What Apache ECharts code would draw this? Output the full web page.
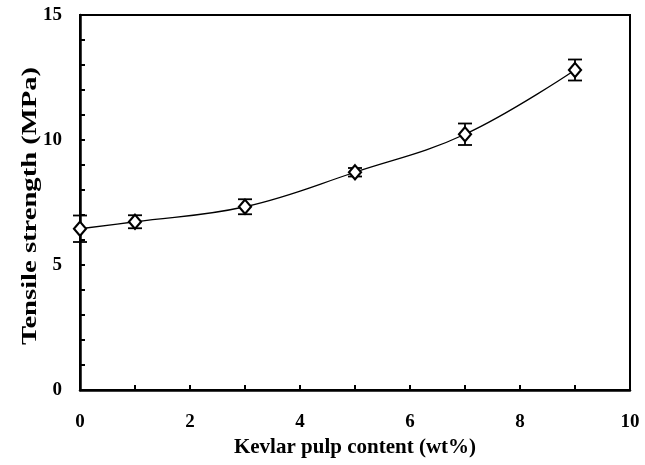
<!DOCTYPE html>
<html>
<head>
<meta charset="utf-8">
<script src="https://cdn.jsdelivr.net/npm/echarts@6/dist/echarts.min.js"></script>
<style>
  html, body { margin: 0; padding: 0; background: #fff; }
  #chart { width: 645px; height: 465px; }
</style>
</head>
<body>
<div id="chart"></div>
<script>
const pulpContent = [0, 1, 3, 5, 7, 9]
const tensileStrength = [6.45, 6.73, 7.33, 8.71, 10.23, 12.8]
const errorBars = [0.53, 0.26, 0.3, 0.17, 0.43, 0.42]

const FONT = '"Liberation Serif", "DejaVu Serif", serif'

const points = pulpContent.map((x, i) => [x, tensileStrength[i]])
const errData = pulpContent.map((x, i) => [x, tensileStrength[i] - errorBars[i], tensileStrength[i] + errorBars[i]])

const chart = echarts.init(document.getElementById('chart'))

chart.setOption({
  animation: false,
  grid: {
    left: 80, right: 15, top: 15, bottom: 75,
    show: true, borderColor: '#000', borderWidth: 2, backgroundColor: 'transparent',
  },
  // y title drawn as graphic so it can be stretched along its length like the original
  graphic: [{
    type: 'text',
    x: 30, y: 206,
    rotation: Math.PI / 2,
    scaleX: 1.3,
    style: {
      text: 'Tensile strength (MPa)',
      fontFamily: FONT, fontWeight: 'bold', fontSize: 22, fill: '#000',
      align: 'center', verticalAlign: 'middle',
    },
  }],
  xAxis: {
    type: 'value',
    min: 0, max: 10, interval: 1,
    name: 'Kevlar pulp content (wt%)',
    nameLocation: 'middle',
    nameGap: 44,
    nameTextStyle: { fontFamily: FONT, fontWeight: 'bold', fontSize: 21, color: '#000' },
    axisLine: { lineStyle: { color: '#000', width: 2.5 } },
    axisTick: { inside: true, length: 5, lineStyle: { color: '#000', width: 2 } },
    axisLabel: {
      margin: 23,
      fontFamily: FONT, fontWeight: 'bold', fontSize: 19, color: '#000',
      formatter: (v) => (v % 2 === 0 ? String(v) : ''),
    },
    splitLine: { show: false },
  },
  yAxis: {
    type: 'value',
    min: 0, max: 15, interval: 1,
    axisLine: { lineStyle: { color: '#000', width: 2.5 } },
    axisTick: { inside: true, length: 5, lineStyle: { color: '#000', width: 2 } },
    axisLabel: {
      margin: 18,
      fontFamily: FONT, fontWeight: 'bold', fontSize: 19, color: '#000',
      formatter: (v) => (v % 5 === 0 ? String(v) : ''),
    },
    splitLine: { show: false },
  },
  series: [
    {
      type: 'line',
      data: points,
      smooth: 0.4,
      symbol: 'diamond',
      symbolSize: [12, 14],
      itemStyle: { color: '#fff', borderColor: '#000', borderWidth: 2.2 },
      lineStyle: { color: '#000', width: 1.3 },
      z: 3,
    },
    {
      type: 'custom',
      data: errData,
      z: 2,
      renderItem: (params, api) => {
        const x = api.value(0)
        const lo = api.coord([x, api.value(1)])
        const hi = api.coord([x, api.value(2)])
        const half = 7
        const style = { stroke: '#000', lineWidth: 1.8 }
        return {
          type: 'group',
          children: [
            { type: 'line', shape: { x1: lo[0], y1: lo[1], x2: hi[0], y2: hi[1] }, style },
            { type: 'line', shape: { x1: lo[0] - half, y1: lo[1], x2: lo[0] + half, y2: lo[1] }, style },
            { type: 'line', shape: { x1: hi[0] - half, y1: hi[1], x2: hi[0] + half, y2: hi[1] }, style },
          ],
        }
      },
    },
  ],
})
</script>
</body>
</html>
